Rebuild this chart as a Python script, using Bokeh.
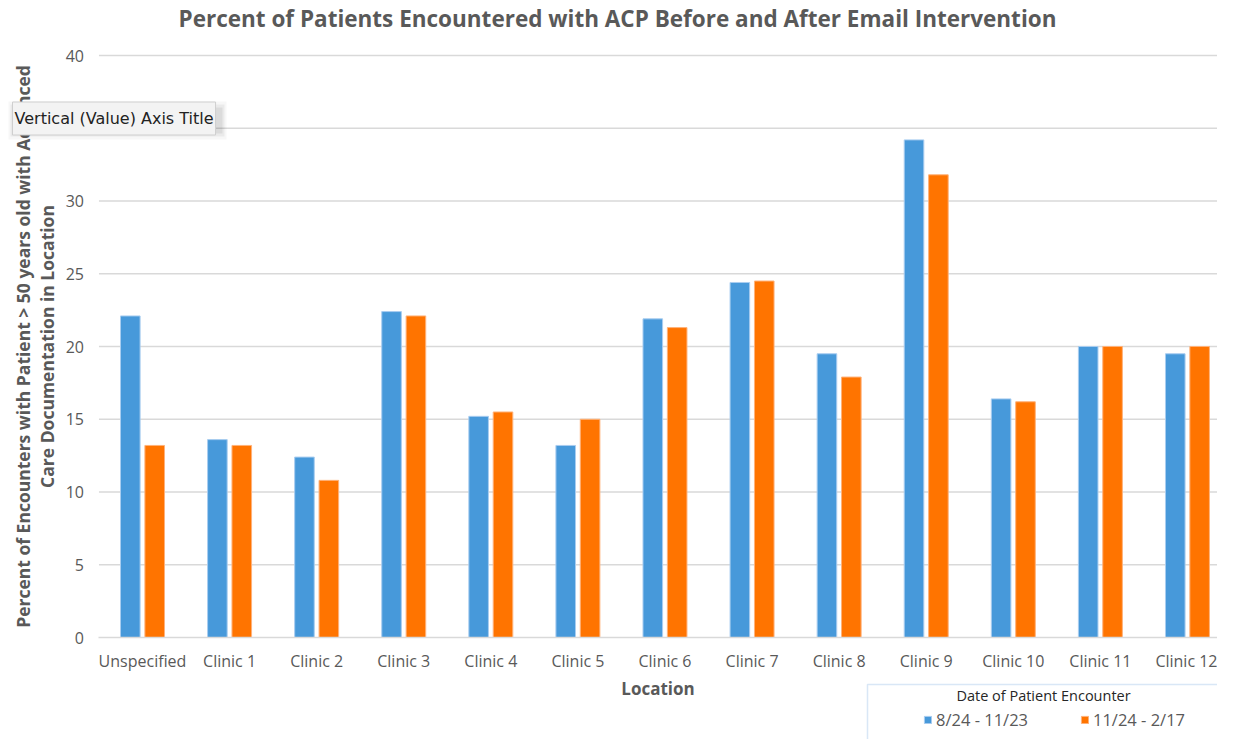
import math
from bokeh.plotting import figure
from bokeh.models import (ColumnDataSource, Range1d, FixedTicker, Label, LinearAxis,
                          Legend, LegendItem, BoxAnnotation)
from bokeh.transform import dodge
from bokeh.embed import file_html
from bokeh.resources import INLINE

categories = ["Unspecified", "Clinic 1", "Clinic 2", "Clinic 3", "Clinic 4", "Clinic 5",
              "Clinic 6", "Clinic 7", "Clinic 8", "Clinic 9", "Clinic 10", "Clinic 11", "Clinic 12"]
before = [22.1, 13.6, 12.4, 22.4, 15.2, 13.2, 21.9, 24.4, 19.5, 34.2, 16.4, 20.0, 19.5]
after = [13.2, 13.2, 10.8, 22.1, 15.5, 15.0, 21.3, 24.5, 17.9, 31.8, 16.2, 20.0, 20.0]
series_names = ["8/24 - 11/23", "11/24 - 2/17"]
y_ticks = [0, 5, 10, 15, 20, 25, 30, 35, 40]

title_text = "Percent of Patients Encountered with ACP Before and After Email Intervention"
y_title_1 = "Percent of Encounters with Patient > 50 years old with Advanced"
y_title_2 = "Care Documentation in Location"
x_title = "Location"
legend_title = "Date of Patient Encounter"
tooltip_text = "Vertical (Value) Axis Title"

FONT = "Open Sans"
GREY = "#595959"
BLUE = "#4799da"
ORANGE = "#ff7400"
GRID = "#d9d9d9"

W, H = 1217, 739
# pixel geometry of the plotting area
CAT_PX = 87.08          # width of one category slot
FIRST_CENTER_PX = 142   # centre of first category from left edge
ZERO_PX, TOP_PX = 637, 55
Y_MAX = 40
unit_px = (ZERO_PX - TOP_PX) / Y_MAX

x_start = 0.5 - FIRST_CENTER_PX / CAT_PX
x_end = x_start + W / CAT_PX
y_end = Y_MAX + TOP_PX / unit_px
y_start = -(H - ZERO_PX) / unit_px

n = len(categories)
xc = [i + 0.5 for i in range(n)]
src = ColumnDataSource(dict(x=xc, cat=categories, before=before, after=after))

p = figure(width=W, height=H, output_backend="svg", toolbar_location=None, title=None,
           x_range=Range1d(x_start, x_end), y_range=Range1d(y_start, y_end),
           x_axis_location=None, y_axis_location=None, min_border=0)
p.outline_line_color = None
p.xgrid.visible = False
p.ygrid.visible = False

# gridlines (horizontal) spanning the category area
p.segment(x0=0, x1=n, y0=y_ticks[1:], y1=y_ticks[1:], line_color=GRID, line_width=1.5)

r1 = p.vbar(x=dodge("x", -0.14), top="before", width=0.225, source=src,
            fill_color=BLUE, line_color="#a9cdf0", line_width=1)
r2 = p.vbar(x=dodge("x", 0.14), top="after", width=0.225, source=src,
            fill_color=ORANGE, line_color="#ffb27a", line_width=1)

# y axis
yaxis = LinearAxis(ticker=FixedTicker(ticks=y_ticks), fixed_location=0, bounds=(0, Y_MAX))
yaxis.axis_line_color = None
yaxis.major_tick_line_color = None
yaxis.minor_tick_line_color = None
yaxis.major_tick_out = 0
yaxis.major_tick_in = 0
yaxis.major_label_text_font = FONT
yaxis.major_label_text_font_size = "16px"
yaxis.major_label_text_color = GREY
yaxis.major_label_standoff = 15
p.add_layout(yaxis, "left")

# x axis (categories)
xaxis = LinearAxis(ticker=FixedTicker(ticks=xc), fixed_location=0, bounds=(0, n),
                   major_label_overrides={x: c for x, c in zip(xc, categories)})
xaxis.axis_line_color = GRID
xaxis.axis_line_width = 1.5
xaxis.major_tick_line_color = None
xaxis.minor_tick_line_color = None
xaxis.major_tick_out = 0
xaxis.major_tick_in = 0
xaxis.major_label_text_font = FONT
xaxis.major_label_text_font_size = "16px"
xaxis.major_label_text_color = GREY
xaxis.major_label_standoff = 12
xaxis.axis_label = x_title
xaxis.axis_label_text_font = FONT
xaxis.axis_label_text_font_size = "17px"
xaxis.axis_label_text_font_style = "bold"
xaxis.axis_label_text_color = GREY
xaxis.axis_label_standoff = 2
p.add_layout(xaxis, "below")

# title
p.add_layout(Label(x=617, y=H - 18, x_units="screen", y_units="screen", text=title_text,
                   text_align="center", text_baseline="middle", text_font=FONT,
                   text_font_size="22.5px", text_font_style="bold", text_color=GREY))

# y-axis title (two lines)
for xpos, txt in ((22, y_title_1), (46, y_title_2)):
    p.add_layout(Label(x=xpos, y=H - 346, x_units="screen", y_units="screen", text=txt,
                       angle=math.pi / 2, text_align="center", text_baseline="middle",
                       text_font=FONT, text_font_size="17.5px", text_font_style="bold",
                       text_color=GREY))

# tooltip shadow + box
for dx, dy, a in ((0, 3, 0.06), (2, 6, 0.05), (4, 9, 0.03)):
    p.add_layout(BoxAnnotation(left=12 - dx, right=222 + dx, top=H - 108 + dy - 2,
                               bottom=H - 130 - dy,
                               left_units="screen", right_units="screen",
                               top_units="screen", bottom_units="screen",
                               fill_color="black", fill_alpha=a, line_alpha=0))
p.add_layout(Label(x=12, y=H - 118, x_units="screen", y_units="screen", text=tooltip_text,
                   text_align="left", text_baseline="middle", text_font="DejaVu Sans",
                   text_font_size="16px", text_color="#222222",
                   background_fill_color="#f3f3f3", border_line_color="#cfcfcf",
                   padding=(2, 7)))

# legend box
p.add_layout(BoxAnnotation(left=867, right=W + 100, top=H - 684, bottom=-100,
                           left_units="screen", right_units="screen",
                           top_units="screen", bottom_units="screen",
                           fill_alpha=0, line_color="#82b1e0", line_width=1.5))
p.add_layout(Label(x=1043, y=H - 695, x_units="screen", y_units="screen", text=legend_title,
                   text_align="center", text_baseline="middle", text_font=FONT,
                   text_font_size="14.5px", text_color="#262626"))

legend = Legend(items=[LegendItem(label=series_names[0], renderers=[r1]),
                       LegendItem(label=series_names[1], renderers=[r2])],
                location=(923, H - 731), orientation="horizontal", padding=0, margin=0,
                spacing=8, glyph_width=9, glyph_height=9, label_standoff=4, label_width=136,
                label_text_font=FONT, label_text_font_size="16.5px", label_text_color=GREY,
                border_line_alpha=0, background_fill_alpha=0)
p.add_layout(legend)

open("out.html", "w").write(file_html(p, INLINE))
